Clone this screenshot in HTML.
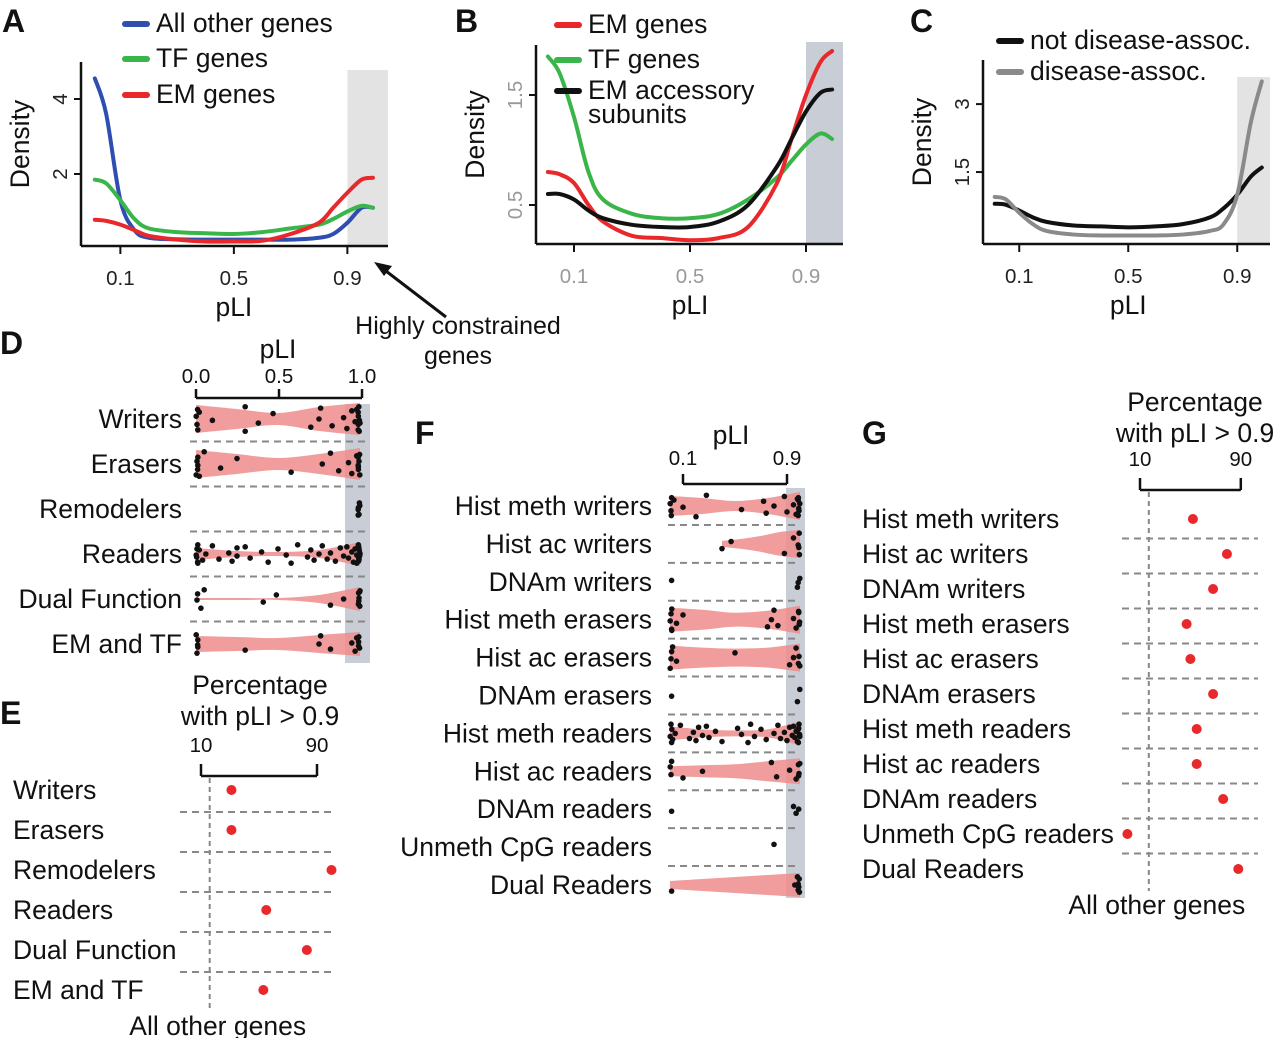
<!DOCTYPE html>
<html><head><meta charset="utf-8">
<style>
html,body{margin:0;padding:0;background:#fff;}
svg{display:block;font-family:"Liberation Sans",Arial,sans-serif;}
</style></head>
<body>
<svg id="fig" width="1280" height="1038" viewBox="0 0 1280 1038" xmlns="http://www.w3.org/2000/svg"></svg>
<script>
// ---------- DATA ----------
const densityGrid = [0.01,0.05,0.1,0.15,0.2,0.3,0.4,0.5,0.6,0.7,0.8,0.85,0.9,0.95,0.99];
const aAllOther = [4.55,3.6,1.3,0.5,0.3,0.26,0.25,0.25,0.25,0.25,0.3,0.4,0.7,1.1,1.1];
const aTF       = [1.85,1.75,1.3,0.8,0.55,0.45,0.42,0.4,0.45,0.55,0.65,0.8,1.0,1.15,1.1];
const aEM       = [0.78,0.75,0.65,0.5,0.35,0.25,0.2,0.2,0.22,0.4,0.7,1.1,1.5,1.85,1.9];
const bTF       = [1.85,1.7,1.3,0.8,0.55,0.42,0.38,0.38,0.42,0.55,0.75,0.9,1.05,1.15,1.1];
const bEM       = [0.8,0.78,0.7,0.5,0.35,0.22,0.2,0.18,0.2,0.3,0.7,1.1,1.5,1.8,1.9];
const bAccessory= [0.6,0.6,0.55,0.45,0.38,0.32,0.3,0.3,0.35,0.5,0.85,1.1,1.35,1.52,1.55];
const cNotDisease=[0.8,0.78,0.65,0.5,0.4,0.32,0.3,0.28,0.3,0.35,0.5,0.7,1.0,1.4,1.6];
const cDisease  = [0.95,0.9,0.6,0.35,0.2,0.12,0.1,0.1,0.1,0.12,0.2,0.35,1.0,2.6,3.5];
const pliTicks = [0.1,0.5,0.9];

const dCats = ["Writers","Erasers","Remodelers","Readers","Dual Function","EM and TF"];
const dViolinMin = [0,0,null,0,0,0];
const dViolinWidths = [[14,10,6,12,16],[14,10,6,10,16],null,[6,3,2,4,12],[1,1,1,4,12],[8,7,6,9,12]];
const dPoints = [
 [0,0,0,0,0.02,0.1,0.3,0.3,0.38,0.47,0.7,0.75,0.76,0.83,0.9,0.92,0.95,0.97,0.98,0.99,0.99,1,1,1,1,1,1],
 [0,0,0,0,0,0.02,0.05,0.15,0.25,0.58,0.77,0.82,0.87,0.93,0.95,0.98,0.99,1,1,1,1,1,1],
 [1,1,1,1,1,1],
 [0,0,0,0,0,0,0.02,0.04,0.06,0.1,0.14,0.2,0.22,0.25,0.25,0.3,0.33,0.4,0.44,0.5,0.55,0.58,0.62,0.68,0.7,0.72,0.75,0.77,0.8,0.82,0.85,0.88,0.9,0.92,0.93,0.95,0.96,0.97,0.98,0.98,0.99,0.99,1,1,1,1,1,1,1,1,1,1],
 [0,0,0.03,0.05,0.41,0.49,0.82,0.9,1,1,1,1,1,1,1],
 [0,0,0,0,0,0.3,0.75,0.76,0.82,0.95,0.97,0.98,1,1,1,1]
];
const ePercent = [31,31,100,55,83,53];
const eBaseline = 16;
const percentTicks = [10,90];

const fCats = ["Hist meth writers","Hist ac writers","DNAm writers","Hist meth erasers","Hist ac erasers","DNAm erasers","Hist meth readers","Hist ac readers","DNAm readers","Unmeth CpG readers","Dual Readers"];
const fViolinMin = [0,0.4,null,0,0,null,0,0,null,null,0];
const fViolinWidths = [[10,8,5,8,14],[3,5,8,12,14],null,[12,10,7,9,14],[12,10,9,10,14],null,[7,4,3,4,12],[5,6,7,10,13],null,null,[4,6,8,10,12]];
const fPoints = [
 [0,0,0,0.01,0.03,0.1,0.2,0.28,0.55,0.72,0.74,0.8,0.88,0.9,0.95,0.97,0.98,0.99,1,1,1,1,1],
 [0.4,0.47,0.88,0.95,1,1,1,1],
 [0,0.98,1,1],
 [0,0,0,0,0,0.05,0.1,0.75,0.78,0.8,0.83,0.95,0.97,1,1,1,1],
 [0,0,0,0.02,0.05,0.5,0.92,0.95,0.97,1,1,1],
 [0,0.98,1],
 [0,0,0,0,0.02,0.04,0.08,0.15,0.18,0.2,0.22,0.25,0.28,0.3,0.35,0.4,0.52,0.55,0.6,0.62,0.65,0.7,0.74,0.8,0.83,0.85,0.88,0.9,0.92,0.94,0.95,0.96,0.97,0.98,0.99,1,1,1,1,1],
 [0,0,0,0.1,0.25,0.78,0.82,0.92,0.97,1,1,1,1],
 [0,0.95,0.97,0.99],
 [0.8],
 [0,0.96,0.98,1,1,1,1,1]
];
const gPercent = [52,79,68,47,50,68,55,55,76,0,88];
const gBaseline = 17;

// ---------- HELPERS ----------
const NS="http://www.w3.org/2000/svg";
const svg=document.getElementById('fig');
const FS=26.5, TFS=20.5;
function mk(tag,attrs,parent){const e=document.createElementNS(NS,tag);for(const k in attrs)e.setAttribute(k,attrs[k]);(parent||svg).appendChild(e);return e;}
function txt(s,x,y,size,anchor,extra){const e=mk('text',Object.assign({x:x,y:y,'font-size':size,'text-anchor':anchor||'start',fill:'#111'},extra||{}));e.textContent=s;return e;}
function smooth(pts){let d='M'+pts[0][0]+','+pts[0][1];for(let i=0;i<pts.length-1;i++){const p0=pts[i-1]||pts[i],p1=pts[i],p2=pts[i+1],p3=pts[i+2]||p2;
 const c1=[p1[0]+(p2[0]-p0[0])/6,p1[1]+(p2[1]-p0[1])/6],c2=[p2[0]-(p3[0]-p1[0])/6,p2[1]-(p3[1]-p1[1])/6];
 d+=' C'+c1[0]+','+c1[1]+' '+c2[0]+','+c2[1]+' '+p2[0]+','+p2[1];}return d;}
const jitter=[-0.7,0.4,-0.2,0.8,-0.5,0.1,0.9,-0.9,0.3,-0.4,0.6,0,-0.8,0.5,-0.1,0.7,-0.6,0.2];

// ---------- PANEL LABELS ----------
[["A",2,32],["B",455,32],["C",910,32],["D",0,354],["E",0,724],["F",415,444],["G",862,444]].forEach(l=>{
 const t=txt(l[0],l[1],l[2],32,'start',{'font-weight':'bold'});
 
 
});

// ---------- DENSITY PANELS ----------
function densityPanel(cfg){
 const g=mk('g',{});
 
 
 const xs=p=>cfg.x0+p*cfg.xw, ys=v=>cfg.y0-v*cfg.yh;
 const sh=mk('rect',{x:xs(0.9),y:cfg.shadeTop,width:cfg.right-xs(0.9),height:cfg.axisY-cfg.shadeTop,fill:cfg.shade},g);
 
 
 cfg.series.forEach(s=>{
  const pts=densityGrid.map((p,i)=>[xs(p),ys(s.vals[i])]);
  const path=mk('path',{d:smooth(pts),fill:'none',stroke:s.color,'stroke-width':4,'stroke-linecap':'round'},g);
  
  
 });
 mk('line',{x1:cfg.axisX,y1:cfg.axisY,x2:cfg.right,y2:cfg.axisY,stroke:'#111','stroke-width':2.5},g);
 mk('line',{x1:cfg.axisX,y1:cfg.axisTop,x2:cfg.axisX,y2:cfg.axisY,stroke:'#111','stroke-width':2.5},g);
 pliTicks.forEach(p=>{mk('line',{x1:xs(p),y1:cfg.axisY,x2:xs(p),y2:cfg.axisY+8,stroke:'#111','stroke-width':2},g);
  const t=txt(String(p),xs(p),cfg.axisY+39,TFS,'middle',{fill:cfg.tickColor});});
 cfg.yTicks.forEach(v=>{mk('line',{x1:cfg.axisX-7,y1:ys(v),x2:cfg.axisX,y2:ys(v),stroke:'#111','stroke-width':2},g);
  const t=txt(String(v),0,0,TFS,'middle',{fill:cfg.tickColor,transform:`translate(${cfg.axisX-14},${ys(v)}) rotate(-90)`});});
 const yl=txt('Density',0,0,FS,'middle',{transform:`translate(${cfg.axisX-52},${(cfg.axisTop+cfg.axisY)/2-10}) rotate(-90)`});
 
 const xl=txt('pLI',xs(0.5),cfg.axisY+70,FS,'middle');
 
 cfg.legend.forEach(l=>{mk('line',{x1:l[0],y1:l[1]-8,x2:l[0]+22,y2:l[1]-8,stroke:l[3],'stroke-width':6,'stroke-linecap':'round'},g);
  l[2].forEach((s,i)=>{const t=txt(s,l[0]+31,l[1]+i*24,FS,'start');});});
}
densityPanel({name:'panel-a-density',x0:92,xw:283.75,y0:249,yh:37.5,axisX:81,axisY:246,axisTop:62,right:388,shadeTop:70,shade:'#e3e3e3',tickColor:'#222',yTicks:[2,4],
 series:[{name:'line-all-other-genes',vals:aAllOther,color:'#2f4fb0'},{name:'line-tf-genes',vals:aTF,color:'#3ab54a'},{name:'line-em-genes',vals:aEM,color:'#e8282a'}],
 legend:[[125,32,['All other genes'],'#2f4fb0'],[125,67,['TF genes'],'#3ab54a'],[125,103,['EM genes'],'#e8282a']]});
densityPanel({name:'panel-b-density',x0:545,xw:290,y0:260,yh:110,axisX:536,axisY:244,axisTop:45,right:843,shadeTop:42,shade:'#c9cdd6',tickColor:'#999',yTicks:[0.5,1.5],
 series:[{name:'line-tf-genes',vals:bTF,color:'#3ab54a'},{name:'line-em-genes',vals:bEM,color:'#e8282a'},{name:'line-em-accessory',vals:bAccessory,color:'#111'}],
 legend:[[557,33,['EM genes'],'#e8282a'],[557,68,['TF genes'],'#3ab54a'],[557,99,['EM accessory','subunits'],'#111']]});
densityPanel({name:'panel-c-density',x0:992,xw:272.5,y0:240,yh:45.3,axisX:983,axisY:244,axisTop:60,right:1270,shadeTop:77,shade:'#e3e3e3',tickColor:'#222',yTicks:[1.5,3],
 series:[{name:'line-not-disease',vals:cNotDisease,color:'#111'},{name:'line-disease',vals:cDisease,color:'#8a8a8a'}],
 legend:[[999,49,['not disease-assoc.'],'#111'],[999,80,['disease-assoc.'],'#8a8a8a']]});

// annotation
mk('line',{x1:446,y1:317,x2:382,y2:268,stroke:'#111','stroke-width':3});
mk('path',{d:'M374,262 L392,266 L384,276 Z',fill:'#111'});
let an=txt('Highly constrained',458,334,25,'middle');
an=txt('genes',458,364,25,'middle');

// ---------- VIOLIN PANELS ----------
function violinPanel(cfg){
 const g=mk('g',{});
 
 
 const xs=p=>cfg.x0+p*cfg.xw;
 const sh=mk('rect',{x:cfg.shadeX,y:cfg.shadeTop,width:cfg.shadeW,height:cfg.shadeBot-cfg.shadeTop,fill:'#c9cdd6'},g);
 
 cfg.cats.forEach((c,i)=>{
  const cy=cfg.rowY0+i*cfg.rowH;
  const lab=txt(c,cfg.labelX,cy+9,cfg.fs,'end');
  if(i>0){const dl=mk('line',{x1:cfg.dashX1,y1:cy-cfg.rowH/2,x2:cfg.dashX2,y2:cy-cfg.rowH/2,stroke:'#888','stroke-width':2,'stroke-dasharray':'7,5'},g);}
  const w=cfg.widths[i];
  if(w){const mn=cfg.mins[i],n=w.length;
   const top=w.map((v,k)=>[xs(mn+(1-mn)*k/(n-1)),cy-v]);
   const bot=w.map((v,k)=>[xs(mn+(1-mn)*k/(n-1)),cy+v]).reverse();
   let d=smooth(top);d+=' L'+bot[0][0]+','+bot[0][1]+smooth(bot).replace(/^M[^C]*/,' ')+' Z';
   const v=mk('path',{d:d,fill:'#f08c8c','fill-opacity':0.85},g);}
  const spread=w?Math.max(8,Math.max(...w)):8;
  cfg.points[i].forEach((p,k)=>{const dot=mk('circle',{cx:xs(p)+(p===0?1:p===1?-1:0)*Math.abs(jitter[(k+3)%jitter.length])*2,cy:cy+jitter[(k+i)%jitter.length]*spread*0.85,r:cfg.r,fill:'#111'},g);
   });
 });
}
// D axis
mk('line',{x1:196,y1:398,x2:362,y2:398,stroke:'#111','stroke-width':2.5});
[0,0.5,1].forEach(p=>{mk('line',{x1:196+p*166,y1:389,x2:196+p*166,y2:398,stroke:'#111','stroke-width':2.5});
 const t=txt(p.toFixed(1),196+p*166,383,TFS,'middle');});
let tt=txt('pLI',278,358,FS,'middle');
violinPanel({name:'panel-d-violins',cats:dCats,mins:dViolinMin,widths:dViolinWidths,points:dPoints,x0:196,xw:164,rowY0:419,rowH:45,labelX:182,fs:FS,dashX1:190,dashX2:368,shadeX:345,shadeW:25,shadeTop:404,shadeBot:663,r:2.8});
// F axis
mk('line',{x1:683,y1:484,x2:787,y2:484,stroke:'#111','stroke-width':2.5});
[0.1,0.9].forEach(p=>{const x=670+p*130;mk('line',{x1:x,y1:474,x2:x,y2:484,stroke:'#111','stroke-width':2.5});
 const t=txt(String(p),x,465,TFS,'middle');});
tt=txt('pLI',731,444,FS,'middle');
violinPanel({name:'panel-f-violins',cats:fCats,mins:fViolinMin,widths:fViolinWidths,points:fPoints,x0:670,xw:130,rowY0:506,rowH:37.9,labelX:652,fs:FS,dashX1:668,dashX2:800,shadeX:786,shadeW:19,shadeTop:488,shadeBot:898,r:2.8});

// ---------- DOT PANELS ----------
function dotPanel(cfg){
 const g=mk('g',{});
 
 
 const xs=v=>cfg.x10+(v-10)*cfg.k;
 let t=txt('Percentage',cfg.titleX,cfg.titleY,FS,'middle');
 t=txt('with pLI > 0.9',cfg.titleX,cfg.titleY+31,FS,'middle');
 mk('line',{x1:xs(10),y1:cfg.brY,x2:xs(90),y2:cfg.brY,stroke:'#111','stroke-width':2.5},g);
 percentTicks.forEach(v=>{mk('line',{x1:xs(v),y1:cfg.brY-12,x2:xs(v),y2:cfg.brY,stroke:'#111','stroke-width':2.5},g);
  const tl=txt(String(v),xs(v),cfg.brY-24,TFS,'middle');});
 const last=cfg.rowY0+(cfg.cats.length-1)*cfg.rowH;
 const bl=mk('line',{x1:xs(cfg.base),y1:cfg.brY+2,x2:xs(cfg.base),y2:last+22,stroke:'#888','stroke-width':2,'stroke-dasharray':'5,4'},g);
 
 cfg.cats.forEach((c,i)=>{const cy=cfg.rowY0+i*cfg.rowH;
  const l=txt(c,cfg.labelX,cy+9,FS,'start');
  if(i>0){const dl=mk('line',{x1:cfg.dashX1,y1:cy-cfg.rowH/2+2,x2:cfg.dashX2,y2:cy-cfg.rowH/2+2,stroke:'#888','stroke-width':2,'stroke-dasharray':'7,5'},g);}
  const d=mk('circle',{cx:xs(cfg.vals[i]),cy:cy,r:5,fill:'#e8282a'},g);});
 t=txt('All other genes',xs(cfg.base)+8,last+45,FS,'middle');
}
dotPanel({name:'panel-e-dots',cats:dCats,vals:ePercent,base:eBaseline,x10:201,k:1.45,titleX:260,titleY:694,brY:776,rowY0:790,rowH:40,labelX:13,dashX1:180,dashX2:336});
dotPanel({name:'panel-g-dots',cats:fCats,vals:gPercent,base:gBaseline,x10:1140,k:1.26,titleX:1195,titleY:411,brY:490,rowY0:519,rowH:35,labelX:862,dashX1:1122,dashX2:1258});
</script>
</body></html>
